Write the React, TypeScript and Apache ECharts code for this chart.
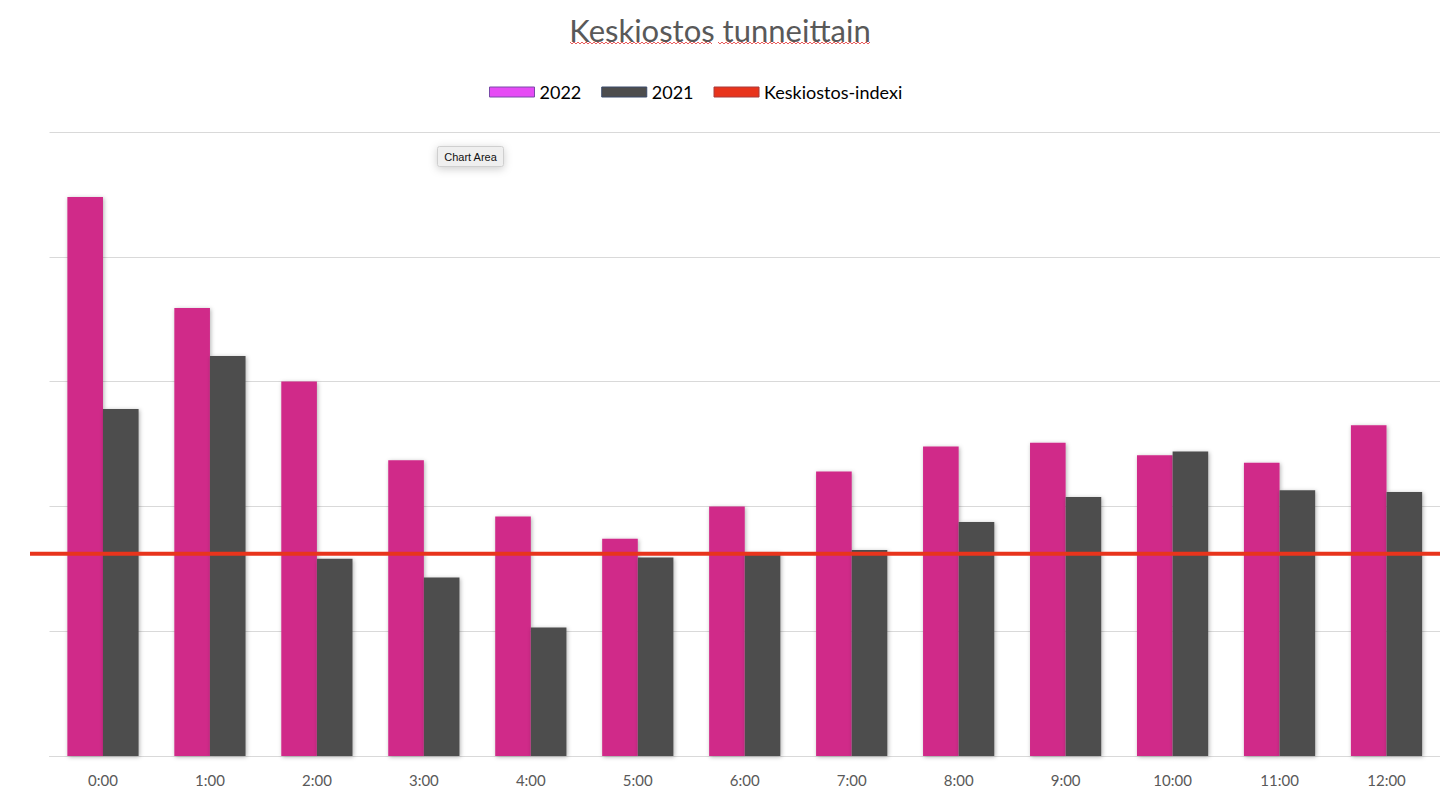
import React, { useEffect, useRef } from "react";
import * as echarts from "echarts";

const categories = ["0:00", "1:00", "2:00", "3:00", "4:00", "5:00", "6:00", "7:00", "8:00", "9:00", "10:00", "11:00", "12:00"];
const values2022 = [44.8, 35.9, 30.0, 23.7, 19.2, 17.4, 20.0, 22.8, 24.8, 25.1, 24.1, 23.5, 26.5];
const values2021 = [27.8, 32.05, 15.8, 14.3, 10.3, 15.9, 16.3, 16.5, 18.75, 20.75, 24.4, 21.3, 21.15];
const indexValue = 16.2;
const yMin = 0;
const yMax = 50;
const yInterval = 10;

function wavy(x0: number, x1: number, y: number): number[][] {
  const pts: number[][] = [];
  let up = true;
  for (let x = x0; x <= x1; x += 2) {
    pts.push([x, up ? y : y + 2]);
    up = !up;
  }
  return pts;
}

export default function App() {
  const ref = useRef<HTMLDivElement>(null);
  useEffect(() => {
    document.body.style.margin = "0";
    const chart = echarts.init(ref.current!, null, { renderer: "svg" });
    const font = "Lato, 'Open Sans', sans-serif";
    const barShadow = { shadowBlur: 4, shadowColor: "rgba(0,0,0,0.3)", shadowOffsetX: 1, shadowOffsetY: 1 };
    chart.setOption({
      animation: false,
      backgroundColor: "#ffffff",
      title: {
        text: "Keskiostos tunneittain",
        left: "center",
        top: 9,
        textStyle: { fontFamily: font, fontSize: 31, fontWeight: "normal", color: "#595959" },
      },
      legend: {
        top: 78,
        left: 484,
        icon: "rect",
        itemWidth: 45,
        itemHeight: 10,
        itemGap: 20,
        textStyle: { fontFamily: font, fontSize: 18, color: "#000000" },
        data: [
          { name: "2022", itemStyle: { color: "#e64bf5", borderColor: "#7a4aa8", borderWidth: 1 } },
          { name: "2021", itemStyle: { color: "#4d4d4d", borderColor: "#3a4a6a", borderWidth: 1 } },
          { name: "Keskiostos-indexi", itemStyle: { color: "#e8341c", borderColor: "#a83a3a", borderWidth: 1 } },
        ],
      },
      grid: [
        { left: 49.5, right: 0, top: 132, bottom: 52 },
        { left: 30, right: 0, top: 132, bottom: 52 },
      ],
      xAxis: [
        {
          type: "category",
          gridIndex: 0,
          data: categories,
          axisLine: { lineStyle: { color: "#d9d9d9", width: 1 } },
          axisTick: { show: false },
          axisLabel: { fontFamily: font, fontSize: 15, color: "#595959", margin: 16 },
        },
        { type: "value", gridIndex: 1, min: 0, max: 1, show: false },
      ],
      yAxis: [
        {
          type: "value",
          gridIndex: 0,
          min: yMin,
          max: yMax,
          interval: yInterval,
          axisLabel: { show: false },
          axisLine: { show: false },
          axisTick: { show: false },
          splitLine: { lineStyle: { color: "#d9d9d9", width: 1 } },
        },
        { type: "value", gridIndex: 1, min: yMin, max: yMax, show: false },
      ],
      series: [
        {
          name: "2022",
          type: "bar",
          data: values2022,
          barGap: "0%",
          barCategoryGap: "33.4%",
          itemStyle: { color: "#d02a89", ...barShadow },
        },
        {
          name: "2021",
          type: "bar",
          data: values2021,
          barGap: "0%",
          barCategoryGap: "33.4%",
          itemStyle: { color: "#4d4d4d", ...barShadow },
        },
        {
          name: "Keskiostos-indexi",
          type: "line",
          xAxisIndex: 1,
          yAxisIndex: 1,
          data: [[0, indexValue], [1, indexValue]],
          symbol: "none",
          lineStyle: { color: "#e8341c", width: 4 },
          itemStyle: { color: "#e8341c" },
          z: 5,
        },
      ],
      graphic: [
        { type: "polyline", shape: { points: wavy(570, 712, 42) }, style: { stroke: "#e85a5a", lineWidth: 1, fill: null } },
        { type: "polyline", shape: { points: wavy(718, 870, 42) }, style: { stroke: "#e85a5a", lineWidth: 1, fill: null } },
        {
          type: "group",
          left: 437,
          top: 146,
          children: [
            {
              type: "rect",
              shape: { x: 0, y: 0, width: 66, height: 20, r: 2 },
              style: { fill: "#efefef", stroke: "#cfcfcf", lineWidth: 1, shadowBlur: 8, shadowColor: "rgba(0,0,0,0.2)", shadowOffsetY: 2 },
            },
            {
              type: "text",
              x: 33,
              y: 10,
              style: { text: "Chart Area", fill: "#111111", fontSize: 11, fontFamily: "'Liberation Sans', Arial, sans-serif", align: "center", verticalAlign: "middle" },
            },
          ],
        },
      ],
    });
    return () => chart.dispose();
  }, []);
  return <div ref={ref} style={{ width: 1440, height: 808 }} />;
}
